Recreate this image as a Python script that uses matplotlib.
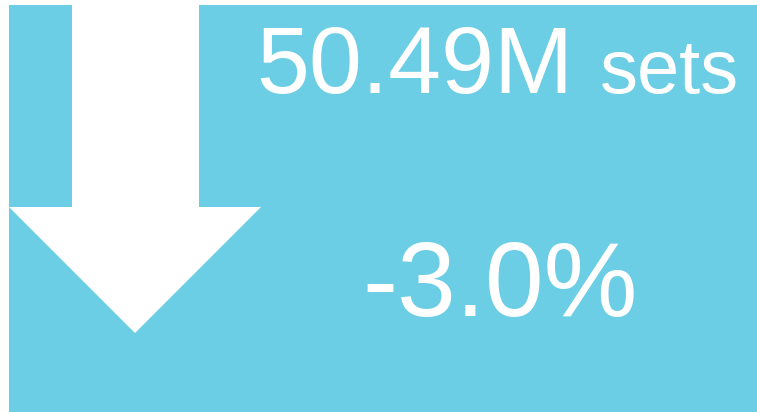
import matplotlib
matplotlib.use("Agg")
import matplotlib.pyplot as plt
from matplotlib.patches import Rectangle, Polygon

# KPI tile values
value = 50.49
unit = "M"
label = "sets"
change = -3.0

bg = "#6ccee4"
W, H = 757, 412

fig = plt.figure(figsize=(W / 100, H / 100), dpi=100)
ax = fig.add_axes([0, 0, 1, 1])
ax.set_xlim(0, W)
ax.set_ylim(H, 0)
ax.axis("off")

ax.add_patch(Rectangle((9, 5), W - 9, H - 5, color=bg, lw=0))

# down arrow (change is negative)
arrow = [(72, 0), (199, 0), (199, 207), (261, 207), (135, 333),
         (9, 207), (72, 207)]
ax.add_patch(Polygon(arrow, closed=True, color="white", lw=0))

font = "Liberation Sans"
ax.text(256, 93, "%.2f%s" % (value, unit), color="white", fontsize=68.5,
        family=font, va="baseline", ha="left")
ax.text(739, 93, label, color="white", fontsize=54.5, family=font,
        va="baseline", ha="right")
ax.text(500, 316, "%.1f%%" % change, color="white", fontsize=76,
        family=font, va="baseline", ha="center")

fig.savefig("out.png", dpi=100)
